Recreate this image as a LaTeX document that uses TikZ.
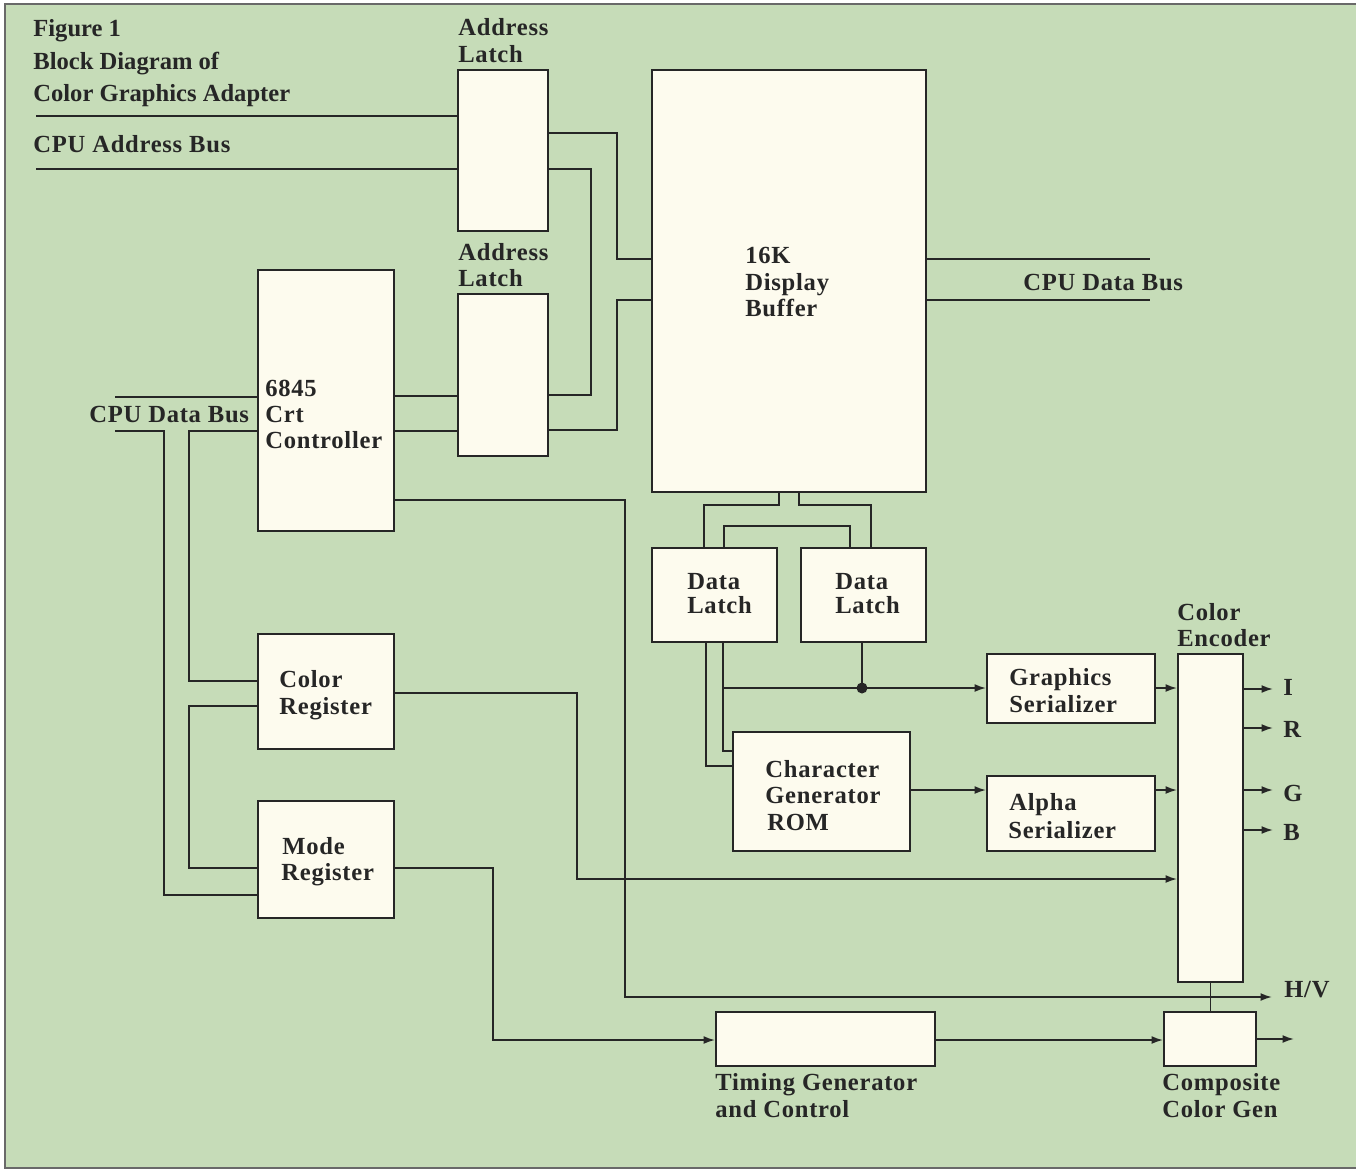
\documentclass[tikz,border=0pt]{standalone}
\usepackage{fontspec}
\setmainfont{Liberation Serif}
\newfontfamily\lblfont{Liberation Serif}[LetterSpace=3]
\newfontfamily\ttlfont{Liberation Serif}
\usetikzlibrary{arrows.meta,fit}
\definecolor{bggreen}{RGB}{198,220,184}
\definecolor{boxfill}{RGB}{253,251,238}
\definecolor{ink}{RGB}{38,38,38}
\definecolor{framec}{RGB}{105,105,105}
\begin{document}
\begin{tikzpicture}[x=0.02cm,y=-0.02cm,
  blk/.style={draw=ink, fill=boxfill, line width=1.1pt, inner sep=0pt},
  wire/.style={draw=ink, line width=1pt},
  arr/.style={wire, -{Latex[length=6.5pt,width=4.5pt]}},
  lbl/.style={anchor=base west, inner sep=0pt, text=ink, font=\lblfont\bfseries\fontsize{14pt}{15pt}\selectfont},
  ttl/.style={anchor=base west, inner sep=0pt, text=ink, font=\ttlfont\bfseries\fontsize{14pt}{15pt}\selectfont}
]
\useasboundingbox (0,0) rectangle (1356,1170);
\fill[white] (0,0) rectangle (1356,1170);
\fill[bggreen] (5,4) rectangle (1356,1168);
\draw[framec, line width=1.5pt] (1356,4) -- (5,4) -- (5,1168) -- (1356,1168);

% ---------- blocks ----------
\node[blk, fit={(458,70)(548,231)}] (al1) {};
\node[blk, fit={(458,294)(548,456)}] (al2) {};
\node[blk, fit={(652,70)(926,492)}] (db) {};
\node[blk, fit={(258,270)(394,531)}] (crt) {};
\node[blk, fit={(258,634)(394,749)}] (colr) {};
\node[blk, fit={(258,801)(394,918)}] (mode) {};
\node[blk, fit={(652,548)(777,642)}] (dl1) {};
\node[blk, fit={(801,548)(926,642)}] (dl2) {};
\node[blk, fit={(733,732)(910,851)}] (cg) {};
\node[blk, fit={(987,654)(1155,723)}] (gs) {};
\node[blk, fit={(987,776)(1155,851)}] (as) {};
\node[blk, fit={(1178,654)(1243,982)}] (enc) {};
\node[blk, fit={(716,1012)(935,1066)}] (tim) {};
\node[blk, fit={(1164,1012)(1256,1066)}] (ccg) {};

% ---------- free ends ----------
\coordinate (abusA) at (36,116);
\coordinate (abusB) at (36,169);
\coordinate (dbusA) at (115,397);
\coordinate (dbusB) at (115,431);
\coordinate (rbusA) at (1150,259);
\coordinate (rbusB) at (1150,300);
\coordinate (outI) at (1273,689);
\coordinate (outR) at (1273,728);
\coordinate (outG) at (1273,790);
\coordinate (outB) at (1273,830);
\coordinate (outHV) at (1272,997);
\coordinate (outC) at (1294,1039);
\coordinate (jn) at (862,688);

% ---------- address side ----------
\draw[wire] (abusA) -- (abusA -| al1.west);
\draw[wire] (abusB) -- (abusB -| al1.west);
\draw[wire] (al1.east |- 0,133) -| (617,259) -- (db.west |- 0,259);
\draw[wire] (al1.east |- 0,169) -| (591,395) -- (al2.east |- 0,395);
\draw[wire] (db.west |- 0,300) -| (617,430) -- (al2.east |- 0,430);
\draw[wire] (crt.east |- 0,396) -- (al2.west |- 0,396);
\draw[wire] (crt.east |- 0,431) -- (al2.west |- 0,431);
\draw[wire] (db.east |- rbusA) -- (rbusA);
\draw[wire] (db.east |- rbusB) -- (rbusB);

% ---------- CPU data bus (left) ----------
\draw[wire] (dbusA) -- (dbusA -| crt.west);
\draw[wire] (dbusB) -| (164,895) -- (mode.west |- 0,895);
\draw[wire] (crt.west |- 0,431) -| (189,681) -- (colr.west |- 0,681);
\draw[wire] (colr.west |- 0,706) -| (189,868) -- (mode.west |- 0,868);

% ---------- long runs ----------
\draw[arr] (crt.east |- 0,500) -| (625,997) -- (outHV);
\draw[arr] (colr.east |- 0,693) -| (577,879) -- (enc.west |- 0,879);
\draw[arr] (mode.east |- 0,868) -| (493,1040) -- (tim.west |- 0,1040);
\draw[arr] (tim.east |- 0,1040) -- (ccg.west |- 0,1040);
\draw[arr] (ccg.east |- outC) -- (outC);
\draw[wire] (enc.south) -- (enc.south |- ccg.north);

% ---------- display buffer to latches ----------
\draw[wire] (db.south -| 779,0) |- (704,505) -- (dl1.north -| 704,0);
\draw[wire] (db.south -| 799,0) |- (871,505) -- (dl2.north -| 871,0);
\draw[wire] (dl1.north -| 724,0) |- (850,526) -- (dl2.north -| 850,0);

% ---------- latches to generators ----------
\draw[wire] (dl1.south -| 706,0) |- (cg.west |- 0,766);
\draw[wire] (dl1.south -| 723,0) |- (cg.west |- 0,751);
\draw[arr] (723,688) -- (gs.west |- jn);
\draw[wire] (dl2.south -| jn) -- (jn);
\fill[ink] (jn) circle[radius=5.5];
\draw[arr] (cg.east |- 0,790) -- (as.west |- 0,790);
\draw[arr] (gs.east |- 0,688) -- (enc.west |- 0,688);
\draw[arr] (as.east |- 0,790) -- (enc.west |- 0,790);

% ---------- encoder outputs ----------
\draw[arr] (enc.east |- outI) -- (outI);
\draw[arr] (enc.east |- outR) -- (outR);
\draw[arr] (enc.east |- outG) -- (outG);
\draw[arr] (enc.east |- outB) -- (outB);

% ---------- labels ----------
\node[ttl] (t1) at (33,36) {Figure 1};
\node[ttl] (t2) at (33,69) {Block Diagram of};
\node[ttl] (t3) at (33,101) {Color Graphics Adapter};
\node[lbl] (tab) at (33,152) {CPU Address Bus};
\node[lbl] (al1a) at (458,35) {Address};
\node[lbl] (al1b) at (458,62) {Latch};
\node[lbl] (al2a) at (458,260) {Address};
\node[lbl] (al2b) at (458,286) {Latch};
\node[lbl] (dba) at (745,263) {16K};
\node[lbl] (dbb) at (745,290) {Display};
\node[lbl] (dbc) at (745,316) {Buffer};
\node[lbl] (rdb) at (1023,290) {CPU Data Bus};
\node[lbl] (ldb) at (89,422) {CPU Data Bus};
\node[lbl] (crta) at (265,396) {6845};
\node[lbl] (crtb) at (265,422) {Crt};
\node[lbl] (crtc) at (265,448) {Controller};
\node[lbl] (cra) at (279,687) {Color};
\node[lbl] (crb) at (279,714) {Register};
\node[lbl] (mra) at (282,854) {Mode};
\node[lbl] (mrb) at (281,880) {Register};
\node[lbl] (d1a) at (687,589) {Data};
\node[lbl] (d1b) at (687,613) {Latch};
\node[lbl] (d2a) at (835,589) {Data};
\node[lbl] (d2b) at (835,613) {Latch};
\node[lbl] (cea) at (1177,620) {Color};
\node[lbl] (ceb) at (1177,646) {Encoder};
\node[lbl] (gsa) at (1009,685) {Graphics};
\node[lbl] (gsb) at (1009,712) {Serializer};
\node[lbl] (asa) at (1009,810) {Alpha};
\node[lbl] (asb) at (1008,838) {Serializer};
\node[lbl] (cga) at (765,777) {Character};
\node[lbl] (cgb) at (765,803) {Generator};
\node[lbl] (cgc) at (767,830) {ROM};
\node[lbl] (oI) at (1283,695) {I};
\node[lbl] (oR) at (1283,737) {R};
\node[lbl] (oG) at (1283,801) {G};
\node[lbl] (oB) at (1283,840) {B};
\node[lbl] (oHV) at (1284,997) {H/V};
\node[lbl] (tga) at (715,1090) {Timing Generator};
\node[lbl] (tgb) at (715,1117) {and Control};
\node[lbl] (cca) at (1162,1090) {Composite};
\node[lbl] (ccb) at (1162,1117) {Color Gen};
\end{tikzpicture}
\end{document}
